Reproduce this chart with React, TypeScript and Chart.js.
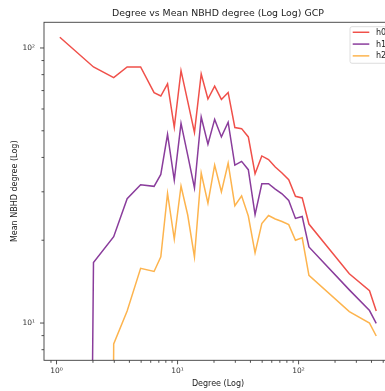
import React, { useEffect, useRef } from "react";
import { Chart, registerables } from "chart.js";

Chart.register(...registerables);

const TITLE = "Degree vs Mean NBHD degree (Log Log) GCP";
const X_LABEL = "Degree (Log)";
const Y_LABEL = "Mean NBHD degree (Log)";
const SERIES_NAMES = ["h0", "h1", "h2"];
const SERIES_COLORS = ["#f0504a", "#8a3d9c", "#fdb44e"];

// A zero value cannot be shown on a log axis; it is clipped far below the plot.
const ZERO = 1e-12;

const degree = [
  1.065, 2.02, 2.967, 3.832, 4.952,
  6.397, 7.271, 8.264, 9.394, 10.68, 12.13,
  13.79, 15.68, 17.82, 20.25, 23.02, 26.17, 29.74, 33.81, 38.42,
  43.68, 49.65, 56.43, 64.14, 72.91, 82.87, 94.19, 107.1, 121.7,
  262.4, 385.3, 437.9,
];

const h0 = [
  109.4, 85.3, 78.0, 85.3, 85.3,
  68.8, 66.9, 74.1, 51.5, 82.7, 64.0,
  49.3, 80.4, 65.2, 72.6, 65.0, 68.9, 51.4, 50.9, 47.5,
  34.9, 40.5, 39.3, 36.9, 35.1, 33.2, 28.9, 28.5, 22.9,
  15.1, 13.1, 11.06,
];

const h1 = [
  ZERO, 16.6, 20.6, 28.3, 31.8,
  31.4, 34.7, 48.5, 33.1, 53.2, 40.8,
  31.0, 56.1, 44.7, 55.0, 47.5, 53.7, 37.5, 38.7, 36.1,
  24.8, 32.1, 32.1, 30.7, 29.5, 27.9, 24.0, 24.4, 18.9,
  13.2, 11.1, 9.97,
];

const h2 = [
  ZERO, ZERO, 8.39, 11.06, 15.8,
  15.4, 17.4, 29.6, 20.2, 31.5, 24.7,
  17.4, 35.1, 27.3, 37.5, 30.0, 38.1, 26.7, 29.0, 24.5,
  18.0, 23.0, 24.6, 23.9, 23.4, 22.8, 20.0, 20.4, 14.9,
  11.0, 10.0, 8.97,
];

const X_RANGE = [0.788, 591];
const Y_RANGE = [7.32, 124];
const X_MAJOR = [1, 10, 100];
const X_MINOR = [0.9, 2, 3, 4, 5, 6, 7, 8, 9, 20, 30, 40, 50, 60, 70, 80, 90, 200, 300, 400, 500];
const Y_MAJOR = [10, 100];
const Y_MINOR = [8, 9, 20, 30, 40, 50, 60, 70, 80, 90];

const FONT = "'DejaVu Sans', sans-serif";
const SUP: Record<string, string> = { "0": "\u2070", "1": "\u00b9", "2": "\u00b2", "3": "\u00b3" };
const powLabel = (v: number) => {
  const e = Math.round(Math.log10(v));
  return "10" + String(e).split("").map((c) => SUP[c] || c).join("");
};

const axesPlugin = {
  id: "mplAxes",
  afterDraw(chart: any) {
    const { ctx, chartArea: a, scales } = chart;
    const xs = scales.x;
    const ys = scales.y;
    ctx.save();
    ctx.strokeStyle = "#3c3c3c";
    ctx.lineWidth = 0.9;
    const xTicks = (vals: number[], len: number) =>
      vals.forEach((v) => {
        const px = xs.getPixelForValue(v);
        if (px < a.left - 0.5 || px > a.right + 0.5) return;
        ctx.beginPath();
        ctx.moveTo(px, a.bottom);
        ctx.lineTo(px, a.bottom + len);
        ctx.stroke();
      });
    const yTicks = (vals: number[], len: number) =>
      vals.forEach((v) => {
        const py = ys.getPixelForValue(v);
        if (py < a.top - 0.5 || py > a.bottom + 0.5) return;
        ctx.beginPath();
        ctx.moveTo(a.left, py);
        ctx.lineTo(a.left - len, py);
        ctx.stroke();
      });
    xTicks(X_MAJOR, 4);
    xTicks(X_MINOR, 2.5);
    yTicks(Y_MAJOR, 4);
    yTicks(Y_MINOR, 2.5);
    ctx.strokeRect(a.left, a.top, a.right - a.left, a.bottom - a.top);

    // legend (upper right, inside the axes)
    const bx = a.right - 42;
    const by = a.top + 4.4;
    const bw = 37;
    const bh = 36.6;
    ctx.beginPath();
    if (ctx.roundRect) ctx.roundRect(bx, by, bw, bh, 2);
    else ctx.rect(bx, by, bw, bh);
    ctx.fillStyle = "rgba(255,255,255,0.8)";
    ctx.fill();
    ctx.strokeStyle = "#d6d6d6";
    ctx.lineWidth = 0.8;
    ctx.stroke();
    ctx.font = `8px ${FONT}`;
    ctx.textBaseline = "middle";
    ctx.textAlign = "left";
    chart.data.datasets.forEach((ds: any, i: number) => {
      const ly = by + 5.6 + i * 11.8;
      ctx.beginPath();
      ctx.strokeStyle = ds.borderColor;
      ctx.lineWidth = 1.5;
      ctx.moveTo(bx + 2.7, ly);
      ctx.lineTo(bx + 19.3, ly);
      ctx.stroke();
      ctx.fillStyle = "#222";
      ctx.fillText(ds.label, bx + 26, ly + 0.5);
    });
    ctx.restore();
  },
};

export default function App() {
  const ref = useRef<HTMLCanvasElement | null>(null);

  useEffect(() => {
    if (!ref.current) return;
    const series = [h0, h1, h2];
    const chart = new Chart(ref.current, {
      type: "line",
      data: {
        datasets: series.map((vals, i) => ({
          label: SERIES_NAMES[i],
          data: degree.map((d, j) => ({ x: d, y: vals[j] })),
          borderColor: SERIES_COLORS[i],
          backgroundColor: SERIES_COLORS[i],
          borderWidth: 1.5,
          pointRadius: 0,
          tension: 0,
          fill: false,
        })),
      },
      options: {
        animation: false,
        responsive: false,
        devicePixelRatio: 1,
        layout: { padding: { left: 0, right: 44, top: 0, bottom: 0 } },
        plugins: {
          legend: { display: false },
          tooltip: { enabled: false },
          title: {
            display: true,
            fullSize: false,
            text: TITLE,
            color: "#222",
            font: { family: FONT, size: 9.4, weight: "normal" },
            padding: { top: 8.4, bottom: 2.6 },
          },
        },
        scales: {
          x: {
            type: "logarithmic",
            min: X_RANGE[0],
            max: X_RANGE[1],
            afterBuildTicks: (s: any) => {
              s.ticks = X_MAJOR.map((v) => ({ value: v, major: true }));
            },
            afterFit: (s: any) => {
              s.height = 30.7;
            },
            grid: { display: false, drawTicks: false },
            border: { display: false },
            ticks: {
              autoSkip: false,
              maxRotation: 0,
              padding: 6,
              color: "#333",
              font: { family: FONT, size: 7.5 },
              callback: (v: any) => powLabel(Number(v)),
            },
            title: {
              display: true,
              text: X_LABEL,
              color: "#222",
              font: { family: FONT, size: 8 },
              padding: { top: 0, bottom: 2.7 },
            },
          },
          y: {
            type: "logarithmic",
            min: Y_RANGE[0],
            max: Y_RANGE[1],
            afterBuildTicks: (s: any) => {
              s.ticks = Y_MAJOR.map((v) => ({ value: v, major: true }));
            },
            afterFit: (s: any) => {
              s.width = 44;
            },
            grid: { display: false, drawTicks: false },
            border: { display: false },
            ticks: {
              autoSkip: false,
              padding: 9,
              color: "#333",
              font: { family: FONT, size: 7.5 },
              callback: (v: any) => powLabel(Number(v)),
            },
            title: {
              display: true,
              text: Y_LABEL,
              color: "#222",
              font: { family: FONT, size: 8 },
              padding: { top: 10.2, bottom: 0 },
            },
          },
        },
      },
      plugins: [axesPlugin],
    } as any);
    return () => chart.destroy();
  }, []);

  return (
    <div
      style={{
        position: "fixed",
        left: 0,
        top: 0,
        width: 385,
        height: 391,
        overflow: "hidden",
        background: "#fff",
      }}
    >
      <canvas ref={ref} width={436} height={391} style={{ display: "block", width: 436, height: 391 }} />
    </div>
  );
}
